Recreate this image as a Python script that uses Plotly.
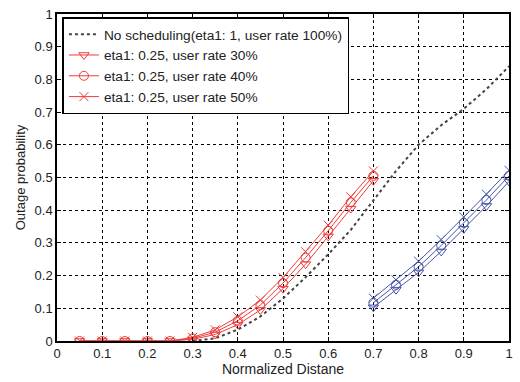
import plotly.graph_objects as go

# ---- data ----
x_red = [0.05, 0.1, 0.15, 0.2, 0.25, 0.3, 0.35, 0.4, 0.45, 0.5, 0.55, 0.6, 0.65, 0.7]
red_30 = [0, 0, 0, 0, 0, 0.005, 0.02, 0.05, 0.095, 0.16, 0.235, 0.32, 0.405, 0.49]
red_40 = [0, 0, 0, 0, 0, 0.008, 0.027, 0.062, 0.11, 0.177, 0.255, 0.337, 0.424, 0.505]
red_50 = [0, 0, 0, 0, 0, 0.011, 0.034, 0.074, 0.125, 0.194, 0.273, 0.354, 0.441, 0.52]

x_blue = [0.7, 0.75, 0.8, 0.85, 0.9, 0.95, 1.0]
blue_30 = [0.103, 0.157, 0.21, 0.274, 0.343, 0.413, 0.488]
blue_40 = [0.117, 0.172, 0.227, 0.292, 0.361, 0.431, 0.505]
blue_50 = [0.131, 0.187, 0.244, 0.31, 0.379, 0.449, 0.522]

x_ns = [0.3, 0.35, 0.4, 0.45, 0.5, 0.55, 0.6, 0.65, 0.7, 0.75, 0.8, 0.85, 0.9, 0.95, 1.0]
y_ns = [0, 0.008, 0.035, 0.075, 0.13, 0.195, 0.265, 0.34, 0.43, 0.52, 0.6, 0.66, 0.71, 0.77, 0.84]

names = ["eta1: 0.25, user rate 30%", "eta1: 0.25, user rate 40%", "eta1: 0.25, user rate 50%"]
symbols = ["triangle-down-open", "circle-open", "x-thin-open"]
ticks = [0, 0.1, 0.2, 0.3, 0.4, 0.5, 0.6, 0.7, 0.8, 0.9, 1]
tick_text = ["0", "0.1", "0.2", "0.3", "0.4", "0.5", "0.6", "0.7", "0.8", "0.9", "1"]

RED = "#f23a3a"
BLUE = "#4a56a8"
FONT = "Liberation Sans, Arial"

fig = go.Figure()
fig.add_trace(go.Scatter(x=x_ns, y=y_ns, mode="lines", name="No scheduling(eta1: 1, user rate 100%)",
                         line=dict(color="#444444", width=2, dash="dot")))
for ys, nm, sym in zip([red_30, red_40, red_50], names, symbols):
    fig.add_trace(go.Scatter(x=x_red, y=ys, mode="lines+markers", name=nm,
                             line=dict(color=RED, width=1),
                             marker=dict(symbol=sym, size=9, color=RED, line=dict(width=1, color=RED))))
for ys, nm, sym in zip([blue_30, blue_40, blue_50], names, symbols):
    fig.add_trace(go.Scatter(x=x_blue, y=ys, mode="lines+markers", name=nm, showlegend=False,
                             line=dict(color=BLUE, width=1),
                             marker=dict(symbol=sym, size=9, color=BLUE, line=dict(width=1, color=BLUE))))

axis_common = dict(range=[0, 1], tickvals=ticks, ticktext=tick_text, showgrid=True,
                   gridcolor="black", griddash="dot", gridwidth=1, showline=True,
                   linecolor="black", linewidth=1.5, mirror="ticks", ticks="inside",
                   ticklen=4, tickcolor="black", zeroline=False,
                   tickfont=dict(family=FONT, size=13, color="#222"))

fig.update_xaxes(**axis_common, title=dict(text="Normalized Distane", standoff=4,
                 font=dict(family=FONT, size=14, color="#222")))
fig.update_yaxes(**axis_common, title=dict(text="Outage probability", standoff=6,
                 font=dict(family=FONT, size=13, color="#222")))

fig.update_layout(
    width=520, height=382,
    margin=dict(l=57, r=7, t=12, b=36),
    paper_bgcolor="white", plot_bgcolor="white",
    font=dict(family=FONT, size=13, color="#222"),
    legend=dict(x=0.012, y=0.99, xanchor="left", yanchor="top",
                bgcolor="white", bordercolor="black", borderwidth=1.5,
                font=dict(size=13.7), tracegroupgap=0, itemwidth=30),
    showlegend=True,
)

fig.write_html("out.html")
